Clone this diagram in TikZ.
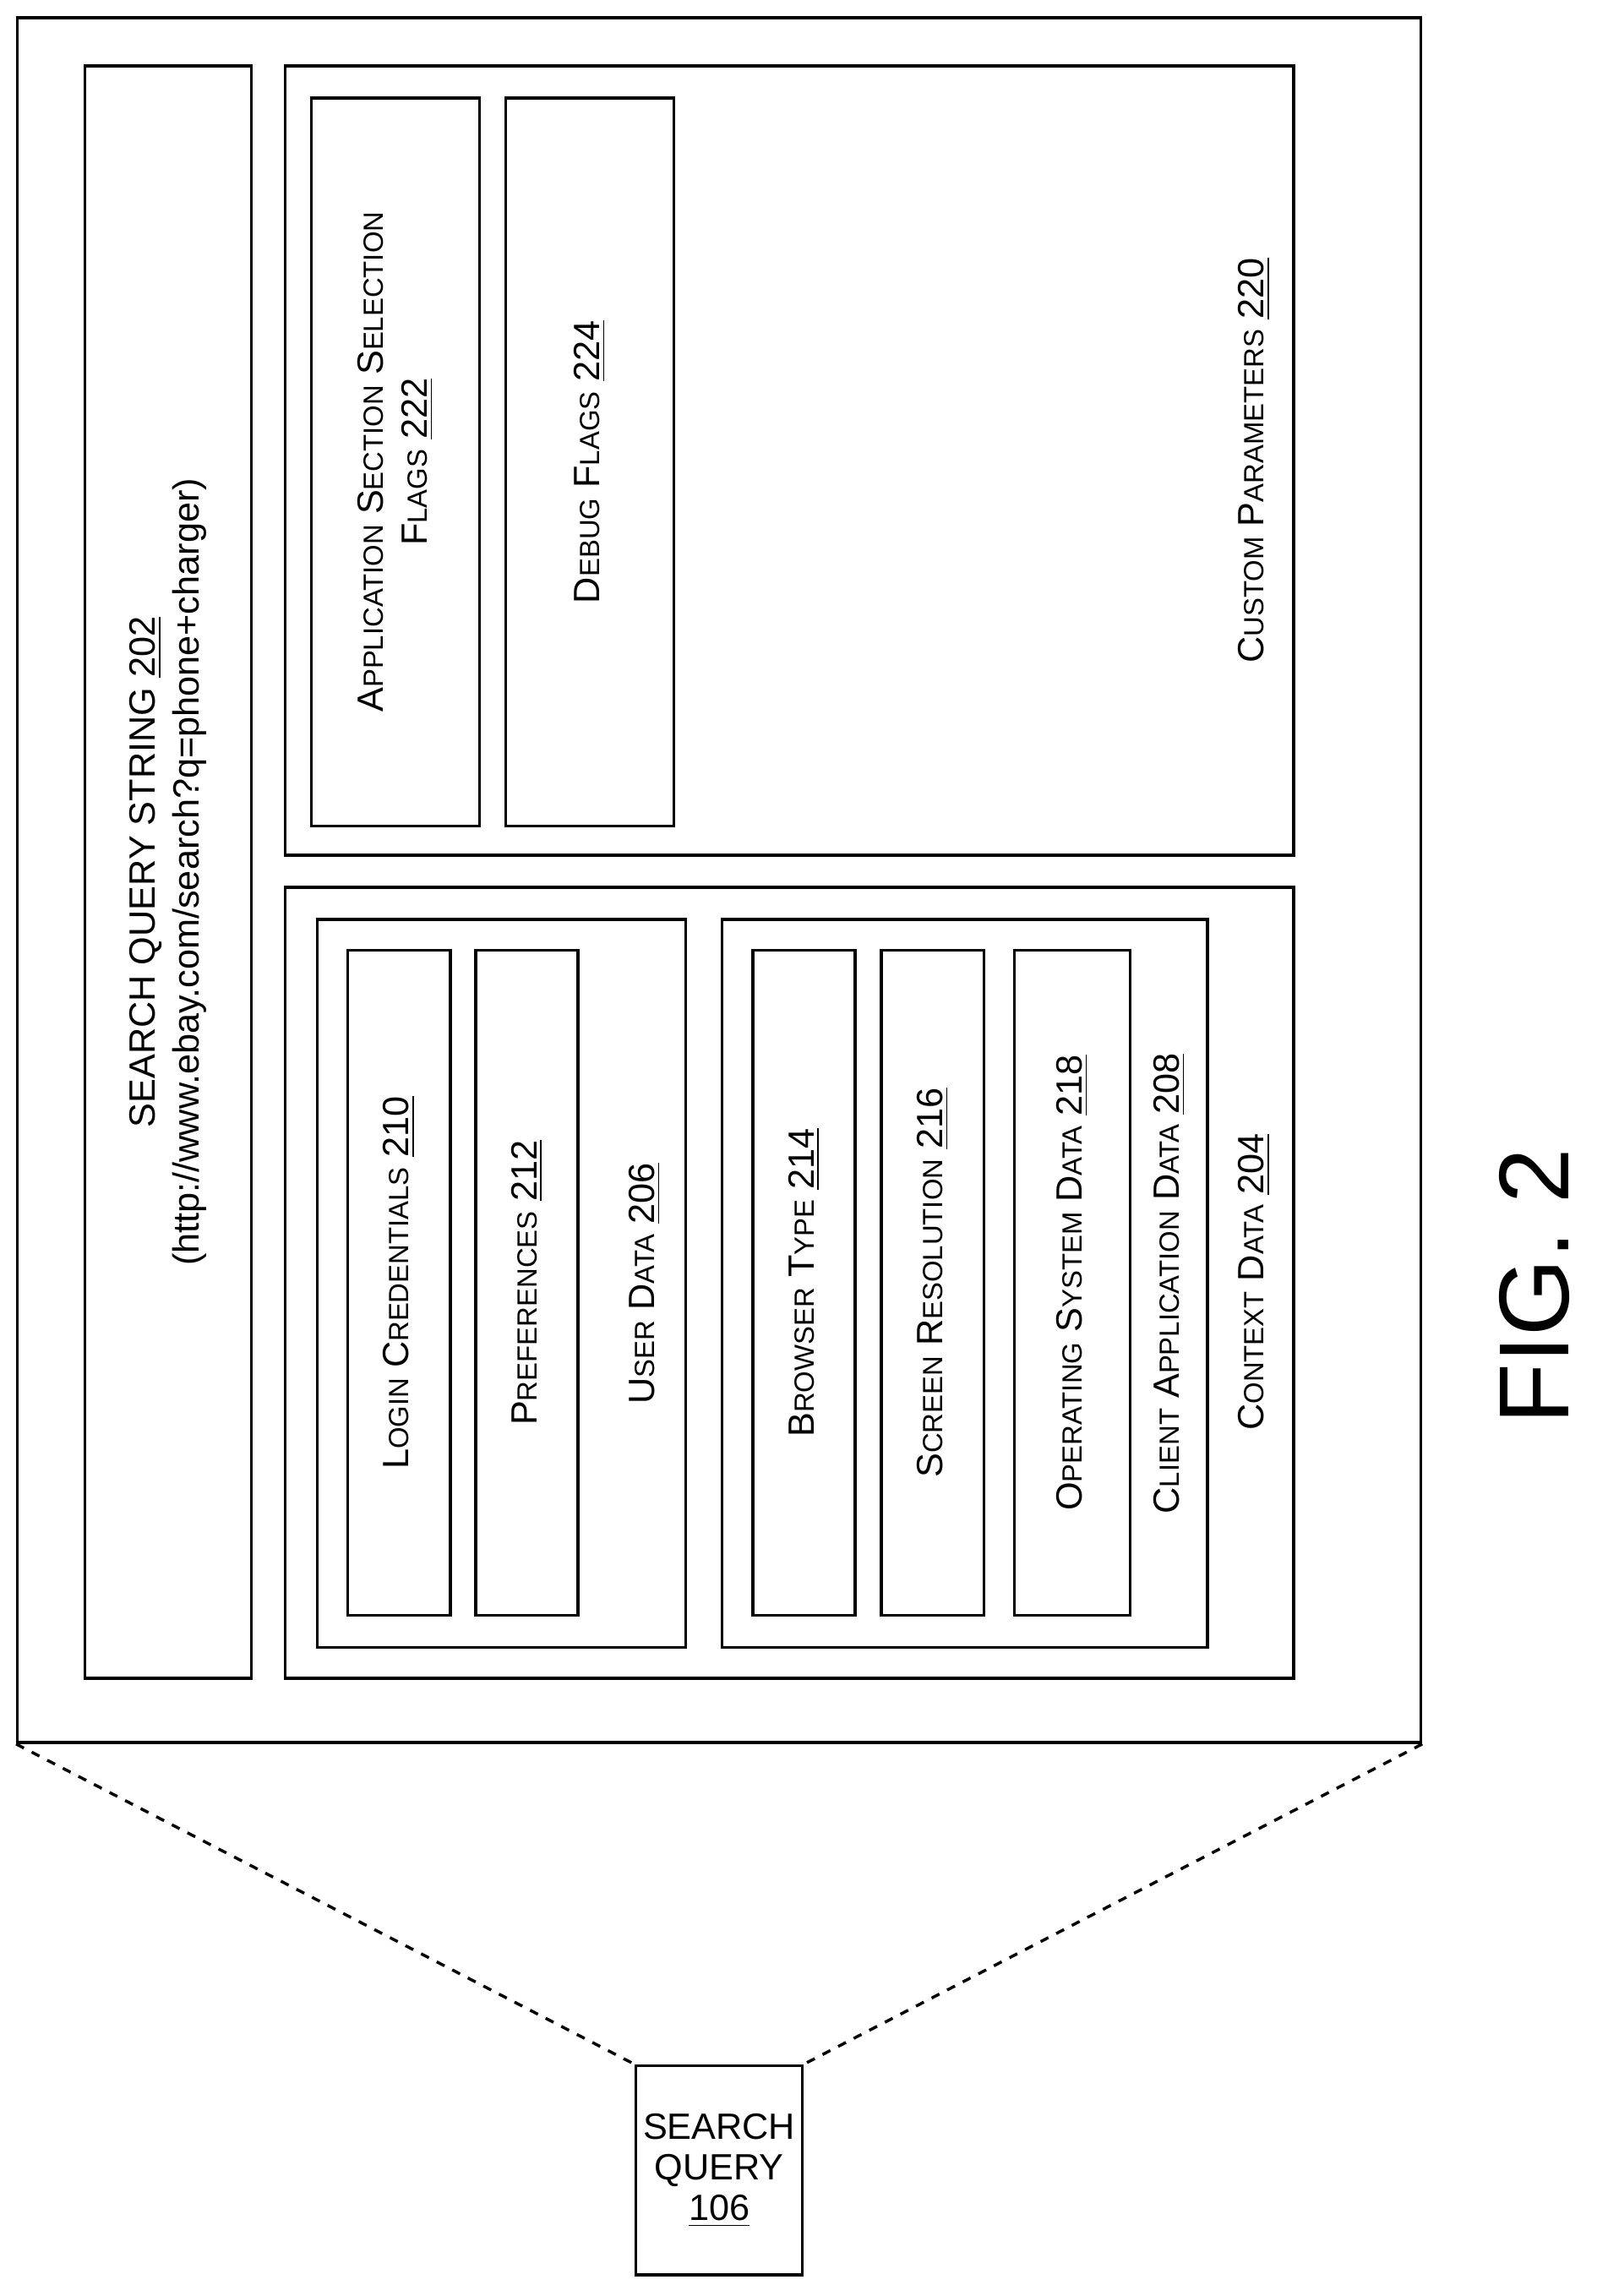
\documentclass[tikz,border=0pt]{standalone}
\usepackage{fontspec}
\setmainfont{Liberation Sans}
\usetikzlibrary{positioning}
\newcommand\scf{\fontsize{9.5}{11}\selectfont}
\newcommand\sC[2]{#1{\scf #2}}
\begin{document}
\begin{tikzpicture}[x=0.5pt, y=-0.5pt,
    line width=1pt,
    box/.style={draw, rectangle, inner sep=0pt},
    leaf/.style={box, rotate=90, align=center, font=\fontsize{12.5}{15}\selectfont},
    lbl/.style={rotate=90, font=\fontsize{12.5}{15}\selectfont}
]
\useasboundingbox (0,0) rectangle (1100,1570.6);
% outer frame
\node[box, minimum width=480pt, minimum height=590pt] (outer) at (492,602) {};
\node[leaf, minimum width=551.5pt, minimum height=57pt] (sqs) at (115,596.5)
  {SEARCH QUERY STRING \underline{202}\\(http://www.ebay.com/search?q=phone+charger)};
% custom parameters
\node[box, minimum width=345pt, minimum height=270pt] (custom) at (540,315) {};
\node[leaf, minimum width=249pt, minimum height=57.5pt] (appflags) at (270.5,316)
  {\sC{A}{PPLICATION} \sC{S}{ECTION} \sC{S}{ELECTION}\\\sC{F}{LAGS} \underline{222}};
\node[leaf, minimum width=249pt, minimum height=57.5pt] (debug) at (403.5,316)
  {\sC{D}{EBUG} \sC{F}{LAGS} \underline{224}};
\node[lbl] (customlbl) at (858,315) {\sC{C}{USTOM} \sC{P}{ARAMETERS} \underline{220}};
% context data
\node[box, minimum width=345pt, minimum height=270.5pt] (context) at (540,877.5) {};
\node[box, minimum width=126pt, minimum height=249pt] (user) at (343,878) {};
\node[leaf, minimum width=227.5pt, minimum height=35pt] (login) at (273,877.5)
  {\sC{L}{OGIN} \sC{C}{REDENTIALS} \underline{210}};
\node[leaf, minimum width=227.5pt, minimum height=35pt] (pref) at (360.5,877.5)
  {\sC{P}{REFERENCES} \underline{212}};
\node[lbl] (userlbl) at (441,878) {\sC{U}{SER} \sC{D}{ATA} \underline{206}};
\node[box, minimum width=166pt, minimum height=249pt] (client) at (660,878) {};
\node[leaf, minimum width=227.5pt, minimum height=35pt] (browser) at (550,877.5)
  {\sC{B}{ROWSER} \sC{T}{YPE} \underline{214}};
\node[leaf, minimum width=227.5pt, minimum height=35pt] (screen) at (638,877.5)
  {\sC{S}{CREEN} \sC{R}{ESOLUTION} \underline{216}};
\node[leaf, minimum width=227.5pt, minimum height=39.5pt] (os) at (733.5,877.5)
  {\sC{O}{PERATING} \sC{S}{YSTEM} \sC{D}{ATA} \underline{218}};
\node[lbl] (clientlbl) at (800,878) {\sC{C}{LIENT} \sC{A}{PPLICATION} \sC{D}{ATA} \underline{208}};
\node[lbl] (contextlbl) at (858,877) {\sC{C}{ONTEXT} \sC{D}{ATA} \underline{204}};
% search query
\node[box, minimum width=57pt, minimum height=71.5pt, align=center,
      font=\fontsize{12.5}{14}\selectfont] (sq) at (492,1484.5)
  {SEARCH\\QUERY\\\underline{106}};
\draw[dashed] (outer.south west) -- (sq.north west);
\draw[dashed] (outer.south east) -- (sq.north east);
% caption
\node[rotate=90, font=\fontsize{34}{40}\selectfont] (fig) at (1050,880) {FIG. 2};
\end{tikzpicture}
\end{document}
